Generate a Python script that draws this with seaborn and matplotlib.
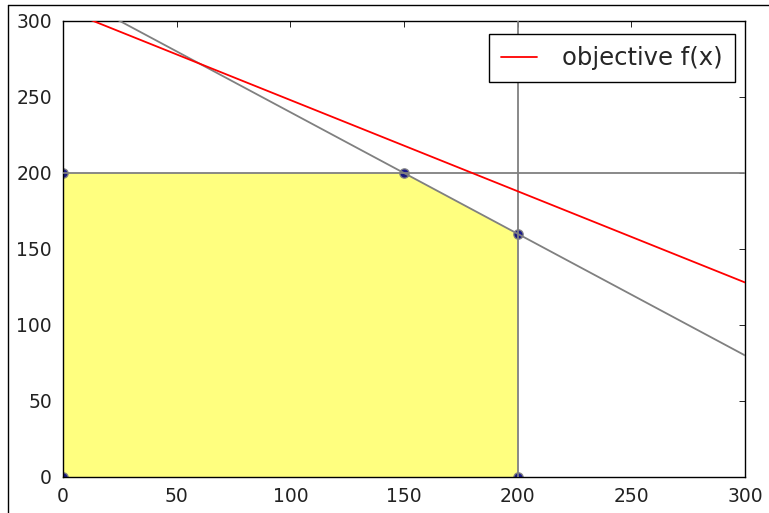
import numpy as np
import pandas as pd
import matplotlib
matplotlib.use("Agg")
import matplotlib.pyplot as plt
from matplotlib.lines import Line2D
import seaborn as sns

# Feasible-region vertices of the linear program
vertex_x = [0, 0, 150, 200, 200]
vertex_y = [0, 200, 200, 160, 0]

# Constraint 4x + 5y <= 1600 written as y = a + b*x
constraint_intercept = 320
constraint_slope = -0.8
# Constraints x <= 200 and y <= 200
x_bound = 200
y_bound = 200

# Objective 3x + 5y = 1540 written as y = a + b*x
objective_intercept = 308
objective_slope = -0.6

ticks = [0, 50, 100, 150, 200, 250, 300]

sns.set_style("white")
plt.rcParams.update({
    "font.family": ["DejaVu Sans"],
    "xtick.direction": "in", "ytick.direction": "in",
    "xtick.top": True, "ytick.right": True,
    "xtick.major.size": 4, "ytick.major.size": 4,
    "xtick.major.width": 0.6, "ytick.major.width": 0.6,
    "xtick.color": "black", "ytick.color": "black",
    "xtick.labelcolor": "#222222", "ytick.labelcolor": "#222222",
    "xtick.major.pad": 7, "ytick.major.pad": 8,
    "axes.edgecolor": "black", "axes.linewidth": 1.0,
})

fig = plt.figure(figsize=(7.69, 5.13), dpi=100)
ax = fig.add_axes([63 / 769, 1 - 477 / 513, (745 - 63) / 769, (477 - 21) / 513])

xs = np.linspace(0, 300, 301)
lines = pd.DataFrame({
    "x": xs,
    "constraint": constraint_intercept + constraint_slope * xs,
    "objective": objective_intercept + objective_slope * xs,
})

# feasible region
ax.fill(vertex_x, vertex_y, color="yellow", alpha=0.5, lw=0, zorder=1)

# vertices
sns.scatterplot(x=vertex_x, y=vertex_y, ax=ax, color="navy", s=45,
                edgecolor="gray", linewidth=1, alpha=0.9, zorder=2, clip_on=True)

# constraint lines
sns.lineplot(data=lines, x="x", y="constraint", ax=ax, color="gray", lw=1.3, zorder=3)
ax.axvline(x_bound, color="gray", lw=1.3, zorder=3)
ax.axhline(y_bound, color="gray", lw=1.3, zorder=3)

# objective function
sns.lineplot(data=lines, x="x", y="objective", ax=ax, color="red", lw=1.3,
             zorder=4, label="objective f(x)")

ax.set_xlim(0, 300)
ax.set_ylim(0, 300)
ax.set_xticks(ticks)
ax.set_yticks(ticks)
ax.tick_params(labelsize=13.5)
ax.set_xlabel("")
ax.set_ylabel("")

leg = ax.legend(loc="upper right", bbox_to_anchor=(0.9853, 0.9715), borderaxespad=0,
                fontsize=17.5, frameon=True, fancybox=False,
                framealpha=1, edgecolor="black", borderpad=0.5,
                handlelength=1.5, handletextpad=1.03)
leg.get_frame().set_linewidth(1.0)

# outer frame around the figure
fig.add_artist(Line2D([7.5 / 769, 7.5 / 769], [0, 1 - 4.5 / 513], color="black", lw=1.0))
fig.add_artist(Line2D([7.5 / 769, 1], [1 - 4.5 / 513, 1 - 4.5 / 513], color="black", lw=1.0))

fig.savefig("out.png", dpi=100)
